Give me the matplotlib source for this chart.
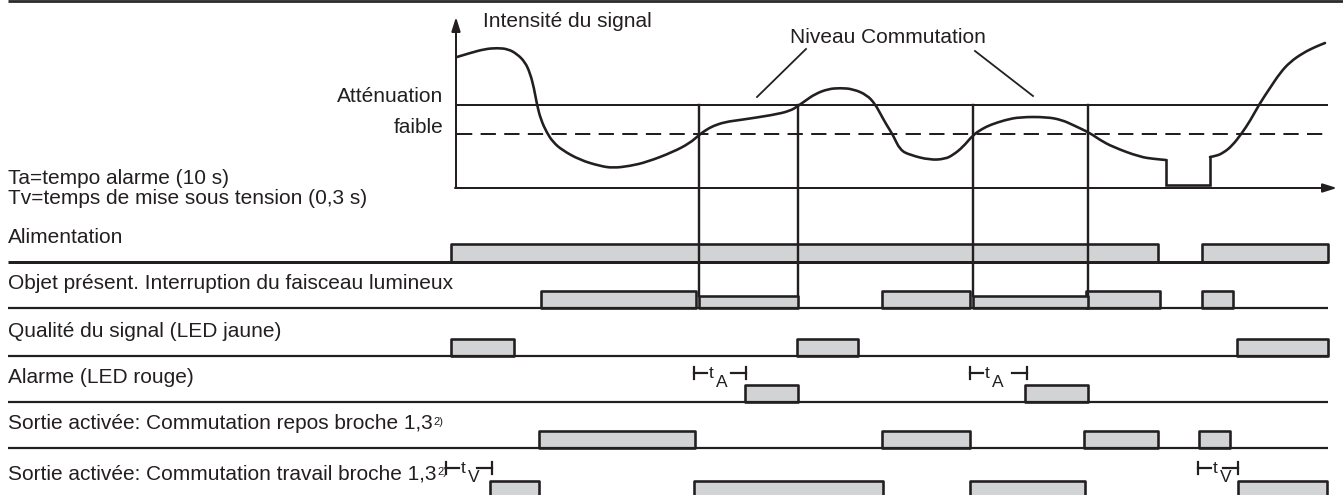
import numpy as np
import matplotlib
matplotlib.use('Agg')
import matplotlib.pyplot as plt
from matplotlib.path import Path
from matplotlib.patches import PathPatch

plt.rcParams['font.family'] = ['Liberation Sans', 'DejaVu Sans']
plt.rcParams['lines.scale_dashes'] = False

INK = '#231f20'
FILL = '#d1d3d4'
PX = 0.72  # one pixel in points at dpi 100

# signal intensity curve (x = time, y = drawing units, top panel)
sig_x = [457, 470, 485, 497, 508, 517, 525, 530, 534, 537, 541, 547, 553, 562,
         580, 600, 613, 630, 647, 673, 690, 699, 706, 713, 725, 740, 773, 790,
         798, 805, 815, 828, 840, 853, 867, 875, 880, 886, 893, 900, 910, 930,
         945, 953, 963, 973, 982, 990, 1005, 1020, 1047, 1062, 1073, 1090, 1100,
         1113, 1140, 1155, 1166, 1166, 1210, 1210, 1216, 1223, 1232, 1242, 1250,
         1260, 1270, 1280, 1290, 1303, 1315, 1325]
sig_y = [57, 53, 49, 48, 49, 54, 62, 73, 88, 105, 120, 133, 142, 150,
         160, 166, 168, 166, 162, 152, 143, 135, 130, 126, 122, 120, 115, 111,
         106, 101, 94, 89, 88, 89, 95, 104, 113, 124, 135, 150, 155, 160,
         159, 155, 147, 135, 129, 125, 120, 117, 117, 120, 125, 133, 140,
         147, 157, 159, 160, 185, 185, 157, 156, 153, 146, 133, 121,
         103, 88, 73, 62, 53, 47, 43]

switch_level = 105
weak_level = 134
t_start, t_end = 457, 1327
switch_times = [699, 798, 973, 1088]

# timing rows: label, baseline, on-intervals
row_labels = ['Alimentation',
              'Objet présent. Interruption du faisceau lumineux',
              'Qualité du signal (LED jaune)',
              'Alarme (LED rouge)',
              'Sortie activée: Commutation repos broche 1,3',
              'Sortie activée: Commutation travail broche 1,3']
row_base = [262, 308, 356, 402, 448, 498]
alim = [(451, 1158), (1202, 1328)]
objet = [(541, 696), (882, 970), (1086, 1160), (1202, 1233)]
objet_low = [(699, 798), (973, 1088)]
qualite = [(451, 514), (797, 858), (1237, 1328)]
alarme = [(745, 798), (1025, 1088)]
repos = [(539, 695), (882, 970), (1084, 1158), (1199, 1230)]
travail = [(490, 539), (694, 883), (970, 1085), (1238, 1327)]
rows = [alim, objet, qualite, alarme, repos, travail]

ta_marks = [(694, 746), (970, 1027)]
tv_marks = [(446, 492), (1198, 1238)]

fig = plt.figure(figsize=(13.43, 4.95), dpi=100)
ax = fig.add_axes([0, 0, 1, 1])
ax.set_xlim(0, 1343)
ax.set_ylim(495, 0)
ax.axis('off')


def smooth_path(pts):
    # quadratic bezier through midpoints of the read points
    verts = [pts[0]]
    codes = [Path.MOVETO]
    for i in range(1, len(pts) - 1):
        mid = ((pts[i][0] + pts[i + 1][0]) / 2, (pts[i][1] + pts[i + 1][1]) / 2)
        verts += [pts[i], mid]
        codes += [Path.CURVE3, Path.CURVE3]
    verts.append(pts[-1])
    codes.append(Path.LINETO)
    return Path(verts, codes)


# top rule
ax.plot([8, 1343], [1.3, 1.3], color='#2b2b2b', lw=2.8 * PX, solid_capstyle='butt')

# top panel axes with arrows
ax.annotate('', xy=(456, 17), xytext=(456, 188),
            arrowprops=dict(arrowstyle='-|>,head_length=0.7,head_width=0.22',
                            lw=2 * PX, color=INK, mutation_scale=12, shrinkA=0, shrinkB=0))
ax.annotate('', xy=(1337, 188), xytext=(455, 188),
            arrowprops=dict(arrowstyle='-|>,head_length=0.7,head_width=0.22',
                            lw=2 * PX, color=INK, mutation_scale=12, shrinkA=0, shrinkB=0))

ax.plot([t_start, t_end], [switch_level, switch_level], color=INK, lw=2 * PX)
ax.plot([t_start, t_end - 4], [weak_level, weak_level], color=INK, lw=2 * PX,
        linestyle=(0, (11, 6)))

# signal: smooth parts, with the sharp drop-out drawn as straight steps
pts = list(zip(sig_x, sig_y))
step_a = sig_x.index(1166)
step_b = sig_x.index(1210) + 1
for seg in (pts[:step_a + 1], pts[step_b:]):
    ax.add_patch(PathPatch(smooth_path(seg), fill=False, edgecolor=INK,
                           lw=2.6 * PX, joinstyle='round', capstyle='round'))
ax.plot(sig_x[step_a:step_b + 1], sig_y[step_a:step_b + 1], color=INK,
        lw=2.6 * PX, solid_joinstyle='miter')

for xv in switch_times:
    ax.plot([xv, xv], [switch_level, 296], color=INK, lw=2.4 * PX)

# leader lines for the switching level
ax.plot([806, 757], [49, 97], color=INK, lw=1.8 * PX)
ax.plot([975, 1033], [51, 96], color=INK, lw=1.8 * PX)

fs = 15
ax.text(483, 27, 'Intensité du signal', fontsize=fs, color=INK, va='baseline')
ax.text(790, 43, 'Niveau Commutation', fontsize=fs, color=INK, va='baseline')
ax.text(443, 102, 'Atténuation', fontsize=fs, color=INK, va='baseline', ha='right')
ax.text(443, 133, 'faible', fontsize=fs, color=INK, va='baseline', ha='right')
ax.text(8, 184, 'Ta=tempo alarme (10 s)', fontsize=fs, color=INK, va='baseline')
ax.text(8, 204, 'Tv=temps de mise sous tension (0,3 s)', fontsize=fs, color=INK, va='baseline')

# timing rows
renderer = fig.canvas.get_renderer()
bar_h = 17
for i, (lab, base, spans) in enumerate(zip(row_labels, row_base, rows)):
    lw_base = 3.0 if i == 0 else 2.2
    ax.plot([8, 1328], [base, base], color=INK, lw=lw_base * PX, solid_capstyle='butt')
    h = 18 if i == 0 else bar_h
    ax.broken_barh([(a, b - a) for a, b in spans], (base - h, h),
                   facecolors=FILL, edgecolors=INK, linewidth=2.6 * PX)
    t = ax.text(8, base - 19, lab, fontsize=fs, color=INK, va='baseline')
    if lab.endswith('1,3'):
        bb = t.get_window_extent(renderer)
        ax.text(bb.x1 + 1, base - 23, '2)', fontsize=8, color=INK, va='baseline')

ax.broken_barh([(a, b - a) for a, b in objet_low], (row_base[1] - 12, 12),
               facecolors=FILL, edgecolors=INK, linewidth=2.6 * PX)


def time_mark(a, b, y, sub):
    ax.plot([a, a], [y - 6, y + 6], color=INK, lw=2.2 * PX)
    ax.plot([b, b], [y - 6, y + 6], color=INK, lw=2.2 * PX)
    ax.plot([a, a + 13], [y, y], color=INK, lw=2.2 * PX)
    ax.plot([b - 15, b], [y, y], color=INK, lw=2.2 * PX)
    ax.text(a + 15, y + 5, 't', fontsize=12.5, color=INK, va='baseline')
    ax.text(a + 22, y + 14, sub, fontsize=12.5, color=INK, va='baseline')


for a, b in ta_marks:
    time_mark(a, b, 373, 'A')
for a, b in tv_marks:
    time_mark(a, b, 468, 'V')

fig.savefig('out.png', dpi=100)
